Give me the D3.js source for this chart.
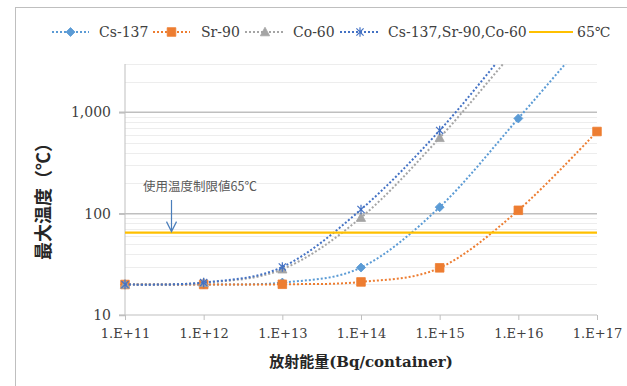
<!DOCTYPE html>
<html>
<head>
<meta charset="utf-8">
<script src="https://cdn.jsdelivr.net/npm/d3@7/dist/d3.min.js"></script>
<style>
  html, body { margin: 0; padding: 0; background: #fff; }
  svg { display: block; }
</style>
</head>
<body>
<svg id="chart" width="627" height="386"></svg>
<script>
// Activity per container (Bq) and the matching tick labels
const activity = [1e11, 1e12, 1e13, 1e14, 1e15, 1e16, 1e17];
const activityLabels = ["1.E+11", "1.E+12", "1.E+13", "1.E+14", "1.E+15", "1.E+16", "1.E+17"];

// Maximum temperature (℃) for each nuclide loading
const cs137 = [20, 20, 20.9, 29.4, 116, 871, 7000];
const sr90 = [20, 20, 20.1, 21.2, 29.2, 108, 647];
const co60 = [20, 20.8, 28.3, 91.5, 561, 4500, 35000];
const combined = [20, 20.9, 29.8, 110, 663, 5600, 45000];

// Service temperature limit
const limitTemp = 65;
const limitLabel = "使用温度制限値65℃";

// Y axis ticks
const yMajor = [10, 100, 1000];
const yMajorLabels = ["10", "100", "1,000"];
const yMinor = [20, 30, 40, 50, 60, 70, 80, 90, 200, 300, 400, 500, 600, 700, 800, 900, 2000, 3000];

const seriesNames = ["Cs-137", "Sr-90", "Co-60", "Cs-137,Sr-90,Co-60", "65℃"];

const svg = d3.select("#chart");
const W = 627, H = 386;
const plot = { left: 125, right: 597, top: 64, bottom: 315 };

svg.append("rect").attr("width", W).attr("height", H).attr("fill", "#fff");

// Chart frame
svg.append("rect")
  .attr("x", 15.5).attr("y", 7.5)
  .attr("width", W + 20).attr("height", H + 20)
  .attr("fill", "none").attr("stroke", "#bfbfbf").attr("stroke-width", 1);

const x = d3.scaleLog().domain([1e11, 1e17]).range([plot.left, plot.right]);
const y = d3.scaleLog().domain([10, 3000]).range([plot.bottom, plot.top]);

// Gridlines
const grid = svg.append("g");
grid.selectAll("line.minor").data(yMinor).join("line")
  .attr("class", "minor")
  .attr("x1", plot.left).attr("x2", plot.right)
  .attr("y1", d => Math.round(y(d)) + 0.5).attr("y2", d => Math.round(y(d)) + 0.5)
  .attr("stroke", "#ededed").attr("stroke-width", 1);
grid.selectAll("line.major").data(yMajor.filter(d => d > 10)).join("line")
  .attr("class", "major")
  .attr("x1", plot.left - 6).attr("x2", plot.right)
  .attr("y1", d => y(d)).attr("y2", d => y(d))
  .attr("stroke", "#bfbfbf").attr("stroke-width", 1.5);

// Y axis
const yAxis = d3.axisLeft(y).tickValues(yMajor).tickFormat((d, i) => yMajorLabels[i]).tickSize(6).tickPadding(8);
const gy = svg.append("g").attr("transform", `translate(${plot.left},0)`).call(yAxis);
gy.select(".domain").attr("stroke", "#bfbfbf").attr("d", `M-6,${plot.bottom}H0V${plot.top}`);
gy.selectAll(".tick line").attr("stroke", "#bfbfbf").attr("stroke-width", 1.5);
gy.selectAll(".tick text")
  .attr("font-family", "'DejaVu Serif', 'Liberation Serif', serif")
  .attr("font-size", 14).attr("fill", "#404040");

// X axis
const xAxis = d3.axisBottom(x).tickValues(activity).tickFormat((d, i) => activityLabels[i]).tickSize(5).tickPadding(9);
const gx = svg.append("g").attr("transform", `translate(0,${plot.bottom})`).call(xAxis);
gx.select(".domain").attr("stroke", "#bfbfbf").attr("d", `M${plot.left},0H${plot.right}`);
gx.selectAll(".tick line").attr("stroke", "#bfbfbf");
gx.selectAll(".tick text")
  .attr("font-family", "'DejaVu Serif', 'Liberation Serif', serif")
  .attr("font-size", 13).attr("fill", "#404040");

// Axis titles
svg.append("text")
  .attr("x", 361).attr("y", 367)
  .attr("text-anchor", "middle")
  .attr("font-family", "'DejaVu Serif', 'Noto Sans CJK JP', serif")
  .attr("font-size", 15).attr("font-weight", "bold").attr("fill", "#262626")
  .text("放射能量(Bq/container)");

svg.append("text")
  .attr("transform", "translate(50,197) rotate(-90)")
  .attr("text-anchor", "middle")
  .attr("font-family", "'Noto Sans CJK JP', sans-serif")
  .attr("font-size", 18).attr("font-weight", "bold").attr("fill", "#262626")
  .text("最大温度（℃）");

// Clip series to the plot area
svg.append("defs").append("clipPath").attr("id", "plotClip")
  .append("rect")
  .attr("x", plot.left - 6).attr("y", plot.top)
  .attr("width", plot.right - plot.left + 12).attr("height", plot.bottom - plot.top + 6);

const series = [
  { name: seriesNames[0], values: cs137, color: "#5b9bd5", marker: "diamond" },
  { name: seriesNames[1], values: sr90, color: "#ed7d31", marker: "square" },
  { name: seriesNames[2], values: co60, color: "#a5a5a5", marker: "triangle" },
  { name: seriesNames[3], values: combined, color: "#4472c4", marker: "star" }
];

const line = d3.line()
  .x((d, i) => x(activity[i]))
  .y(d => y(d))
  .curve(d3.curveCardinal.tension(0));

const markerPath = {
  diamond: "M0,-4.5L4.5,0L0,4.5L-4.5,0Z",
  square: "M-4.3,-4.3H4.3V4.3H-4.3Z",
  triangle: "M0,-4.8L4.6,3.8H-4.6Z",
  star: "M-3.6,-3.6L3.6,3.6M-3.6,3.6L3.6,-3.6M0,-4.8V4.8"
};

function drawMarker(g, type, color, cx, cy) {
  const p = g.append("path")
    .attr("transform", `translate(${cx},${cy})`)
    .attr("d", markerPath[type]);
  if (type === "star") {
    p.attr("fill", "none").attr("stroke", color).attr("stroke-width", 1.2);
  } else {
    p.attr("fill", color).attr("stroke", color).attr("stroke-width", 0.8);
  }
}

const seriesG = svg.append("g").attr("clip-path", "url(#plotClip)");

series.forEach(s => {
  const g = seriesG.append("g");
  g.append("path")
    .attr("d", line(s.values))
    .attr("fill", "none")
    .attr("stroke", s.color)
    .attr("stroke-width", 2)
    .attr("stroke-dasharray", "2,2");
  s.values.forEach((v, i) => {
    if (v <= 3000) drawMarker(g, s.marker, s.color, x(activity[i]), y(v));
  });
});

// 65℃ limit line
seriesG.append("line")
  .attr("x1", x(activity[0])).attr("x2", x(activity[activity.length - 1]))
  .attr("y1", y(limitTemp)).attr("y2", y(limitTemp))
  .attr("stroke", "#ffc000").attr("stroke-width", 2.2);

// Limit annotation with arrow
svg.append("text")
  .attr("x", 143).attr("y", 191)
  .attr("font-family", "'Noto Sans CJK JP', sans-serif")
  .attr("font-size", 12.5).attr("fill", "#595959")
  .text(limitLabel);

const arrowX = 171.5, arrowTop = 200, arrowTip = y(limitTemp) - 1;
svg.append("path")
  .attr("d", `M${arrowX},${arrowTop}V${arrowTip}M${arrowX - 5},${arrowTip - 10}L${arrowX},${arrowTip}L${arrowX + 5},${arrowTip - 10}`)
  .attr("fill", "none").attr("stroke", "#4a7ebb").attr("stroke-width", 1.2);

// Legend
const legendItems = [
  { name: seriesNames[0], color: "#5b9bd5", marker: "diamond", x0: 52, x1: 89, tx: 99 },
  { name: seriesNames[1], color: "#ed7d31", marker: "square", x0: 153, x1: 190, tx: 201 },
  { name: seriesNames[2], color: "#a5a5a5", marker: "triangle", x0: 245, x1: 285, tx: 293 },
  { name: seriesNames[3], color: "#4472c4", marker: "star", x0: 340, x1: 380, tx: 388 },
  { name: seriesNames[4], color: "#ffc000", marker: null, x0: 529, x1: 573, tx: 577 }
];
const legendY = 32;
const lg = svg.append("g");
legendItems.forEach(it => {
  const ln = lg.append("line")
    .attr("x1", it.x0).attr("x2", it.x1)
    .attr("y1", legendY).attr("y2", legendY)
    .attr("stroke", it.color);
  if (it.marker) {
    ln.attr("stroke-width", 2).attr("stroke-dasharray", "2,2");
    drawMarker(lg, it.marker, it.color, (it.x0 + it.x1) / 2, legendY);
  } else {
    ln.attr("stroke-width", 2.2);
  }
  lg.append("text")
    .attr("x", it.tx).attr("y", legendY + 5)
    .attr("font-family", "'DejaVu Serif', 'Liberation Serif', serif")
    .attr("font-size", 14).attr("fill", "#404040")
    .text(it.name);
});
</script>
</body>
</html>
